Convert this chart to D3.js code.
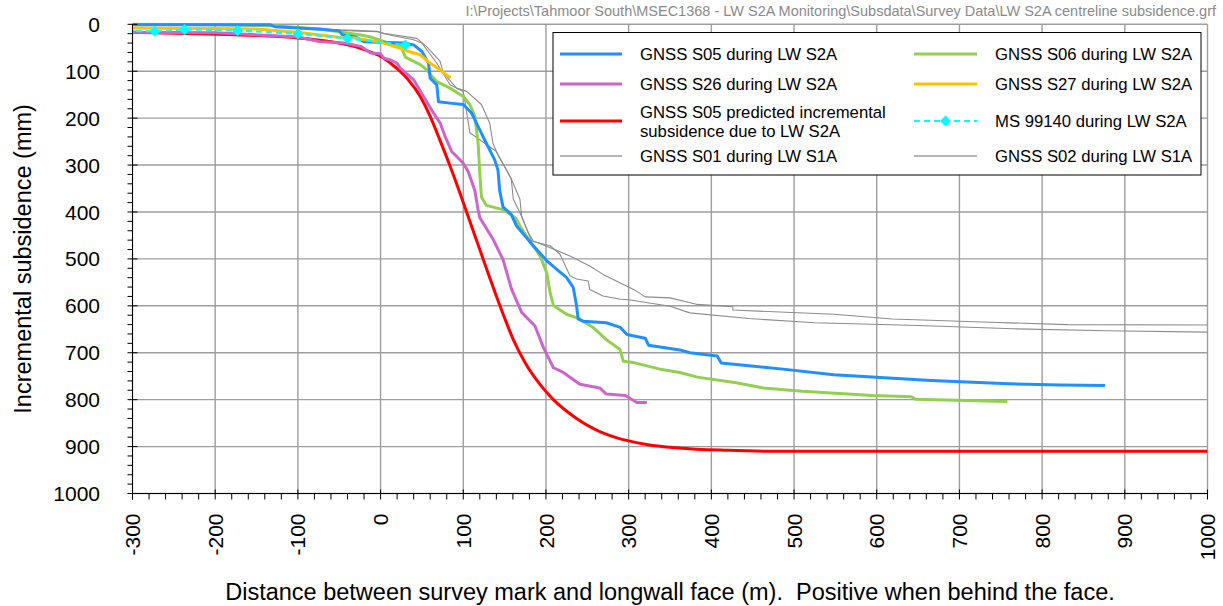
<!DOCTYPE html>
<html><head><meta charset="utf-8">
<script src="https://cdn.jsdelivr.net/npm/d3@7"></script>
<style>
html,body{margin:0;padding:0;background:#fff;}
svg{display:block;font-family:"Liberation Sans",Arial,sans-serif;}
</style></head>
<body>
<svg id="chart" width="1223" height="606"></svg>
<script>
// ---------- data ----------
const xTickValues = [-300,-200,-100,0,100,200,300,400,500,600,700,800,900,1000];
const yTickValues = [0,100,200,300,400,500,600,700,800,900,1000];
const xLabel = "Distance between survey mark and longwall face (m).  Positive when behind the face.";
const yLabel = "Incremental subsidence (mm)";
const filePath = "I:\\Projects\\Tahmoor South\\MSEC1368 - LW S2A Monitoring\\Subsdata\\Survey Data\\LW S2A centreline subsidence.grf";

const s05 = [[-300,1],[-200,1],[-134,1],[-128,5],[-68,11],[-50,14],[-46,23],[-30,27],[-20,37],[28,40],[40,44],[50,58],[58,83],[60,115],[68,129],[70,165],[84,168],[100,171],[110,189],[118,218],[128,254],[138,289],[142,311],[144,354],[148,389],[158,405],[164.5,430],[184.7,472],[201,504],[225,540],[233,561],[237,600],[239,628],[245,633],[273,636],[290,646],[298,661],[320,669],[324,684],[362,694],[374,700],[407,707],[412,722],[492,736],[548,747],[666,759],[760,766],[821,769],[876,770]];
const s06 = [[-300,0],[-200,1],[-130,3],[-73,10],[-24,23],[-12,27],[8,39],[24,44],[30,70],[48,86],[56,97],[62,111],[68,122],[84,136],[100,154],[108,171],[114,196],[118,254],[120,318],[122,368],[128,386],[150,396],[164,414],[168.5,430],[184.7,473],[193,494],[201,530],[205,572],[209,599],[213,604],[225,618],[241,628],[257,646],[273,672],[289.5,693],[293.5,718],[306,721],[338,735],[362,742],[383,752],[430,764],[463,775],[510,782],[595,791],[642,794],[647,799],[758,804]];
const s26 = [[-300,17],[-200,18],[-134,24],[-100,27],[-73,37],[-44,40],[-24,47],[-12,61],[0,63],[4,72],[12,76],[20,83],[24,94],[40,118],[52,154],[64,189],[72,210],[78,239],[86,271],[100,296],[106,314],[114,354],[118,396],[120,412],[136,458],[148,501],[158.5,565],[170.6,614],[186.7,643],[197,689],[209,732],[221,742],[241,767],[265,775],[273,788],[296,791],[310,806],[322,806]];
const s27 = [[-300,8],[-200,9],[-150,10],[-100,17],[-48,28],[-32,29],[0,38],[24,51],[34,58],[48,65],[60,83],[72,97],[82,111],[85,113]];
const predicted = [[-300,17],[-250,19],[-200,21],[-150,24],[-100,29],[-64,36],[-32,47],[-8,62],[0,68],[12,83],[32,115],[48,154],[60,196],[72,248],[84,302],[94,350],[104,400],[114,450],[124,500],[132,540],[140,579],[150,626],[160,670],[175,722],[193,768],[209,800],[237,840],[260,864],[285,881],[320,895],[360,903],[420,908],[480,910],[600,910],[800,910],[1000,910]];
const ms99140 = [[-320,13],[-273,15],[-237,11],[-173,13],[-100,20],[-40,30],[30,44]];
const s01 = [[-68,11],[-32,14],[-4,16],[4,20],[20,26],[40,33],[50,40],[68,83],[84,129],[96,140],[100,143],[108,231],[140,271],[158,329],[160.5,373],[168.5,401],[182.7,462],[205,472],[217,490],[229,536],[237,543],[251,547],[253,565],[269,579],[290,586],[300,587],[350,601],[374,615],[445,627],[525,636],[650,642],[765,649],[878,653],[1000,656]];
const s02 = [[-68,11],[-32,13],[-4,15],[4,19],[44,30],[56,48],[72,79],[76,104],[92,136],[104,143],[122,171],[132,211],[136,254],[142,279],[158,329],[168.5,373],[170.6,409],[178.6,444],[184.7,462],[209,479],[229,494],[253,515],[269,533],[306,565],[320,581],[350,583],[383,597],[426,602],[426,609],[548,618],[619,628],[737,635],[831,640],[1000,641]];

const legendLeft = ["GNSS S05 during LW S2A","GNSS S26 during LW S2A","GNSS S05 predicted incremental|subsidence due to LW S2A","GNSS S01 during LW S1A"];
const legendRight = ["GNSS S06 during LW S2A","GNSS S27 during LW S2A","MS 99140 during LW S2A","GNSS S02 during LW S1A"];

// ---------- styles ----------
const C = {blue:"#1E90FF", green:"#92D050", pink:"#CC66CC", red:"#FF0000", yellow:"#FFC000", cyan:"#00FFFF", gray:"#8c8c8c"};

const svg = d3.select("#chart");
const L = 132.5, R = 1207.5, T = 24.3, B = 493.5;
const x = d3.scaleLinear().domain([-300,1000]).range([L,R]);
const y = d3.scaleLinear().domain([0,1000]).range([T,B]);

// grid
const grid = svg.append("g").attr("stroke","#9e9e9e").attr("stroke-width",1.4);
xTickValues.forEach(v=>{ grid.append("line").attr("x1",x(v)).attr("x2",x(v)).attr("y1",T).attr("y2",B); });
yTickValues.forEach(v=>{ grid.append("line").attr("x1",L).attr("x2",R).attr("y1",y(v)).attr("y2",y(v)); });

// path text
svg.append("text").attr("x",1216).attr("y",16).attr("text-anchor","end")
  .attr("font-size",14.5).attr("fill","#8a8a8a").text(filePath);

// clip
svg.append("clipPath").attr("id","clip").append("rect").attr("x",L).attr("y",T-3).attr("width",R-L).attr("height",B-T+3);
const plot = svg.append("g").attr("clip-path","url(#clip)");

const line = d3.line().x(d=>x(d[0])).y(d=>y(d[1]));
const smooth = d3.line().x(d=>x(d[0])).y(d=>y(d[1])).curve(d3.curveMonotoneX);

function draw(data,color,w,gen,dash){
  const p = plot.append("path").datum(data).attr("d",gen||line).attr("fill","none")
    .attr("stroke",color).attr("stroke-width",w).attr("stroke-linejoin","round");
  if(dash) p.attr("stroke-dasharray",dash);
  return p;
}
draw(s01,C.gray,1.1);
draw(s02,C.gray,1.1);
draw(predicted,C.red,3,smooth);
draw(s26,C.pink,3);
draw(s06,C.green,3);
draw(s05,C.blue,3);
draw(s27,C.yellow,3);
draw(ms99140,C.cyan,2.2,null,"6,4");
const dia = d3.symbol().type(d3.symbolSquare).size(60);
plot.selectAll(".dm").data(ms99140).enter().append("path")
  .attr("d",dia).attr("fill",C.cyan)
  .attr("transform",d=>`translate(${x(d[0])},${y(d[1])}) rotate(45)`);

// axes
const ax = svg.append("g").attr("stroke","#000").attr("stroke-width",1);
ax.append("line").attr("x1",L-4).attr("x2",R).attr("y1",B).attr("y2",B);
ax.append("line").attr("x1",L).attr("x2",L).attr("y1",T).attr("y2",B+6);
d3.range(-300,1001,20).forEach(v=>{
  const major = v%100===0;
  ax.append("line").attr("x1",x(v)).attr("x2",x(v)).attr("y1",major?B-4:B).attr("y2",B+6);
});
d3.range(0,1001,20).forEach(v=>{
  const major = v%100===0;
  ax.append("line").attr("x1",L-5).attr("x2",major?L+5:L).attr("y1",y(v)).attr("y2",y(v));
});

// tick labels
svg.append("g").selectAll("text").data(yTickValues).enter().append("text")
  .attr("x",100).attr("y",d=>y(d)).attr("dy","0.36em").attr("text-anchor","end")
  .attr("font-size",21).attr("fill","#000").text(d=>d);
svg.append("g").selectAll("text").data(xTickValues).enter().append("text")
  .attr("transform",d=>`translate(${x(d)},${B+20}) rotate(-90)`)
  .attr("dy","0.36em").attr("text-anchor","end")
  .attr("font-size",21).attr("fill","#000").text(d=>d);

// titles
svg.append("text").attr("x",(L+R)/2).attr("y",600).attr("text-anchor","middle")
  .attr("font-size",23.5).style("white-space","pre").attr("fill","#000").text(xLabel);
svg.append("text").attr("transform",`translate(31,${(T+B)/2}) rotate(-90)`).attr("text-anchor","middle")
  .attr("font-size",23.5).attr("fill","#000").text(yLabel);

// legend
const lg = svg.append("g");
lg.append("rect").attr("x",553).attr("y",32.5).attr("width",648).attr("height",142.5)
  .attr("fill","#fff").attr("stroke","#000").attr("stroke-width",1);
const rowsY = [54,84,121,156];
const leftStyles = [[C.blue,3],[C.pink,3],[C.red,3],["#b8b8b8",2.2]];
const rightStyles = [[C.green,3],[C.yellow,3],[C.cyan,2.2],["#b8b8b8",2.2]];
function legendCol(labels,styles,x1,x2,tx){
  labels.forEach((lab,i)=>{
    const yy = rowsY[i];
    const ln = lg.append("line").attr("x1",x1).attr("x2",x2).attr("y1",yy).attr("y2",yy)
      .attr("stroke",styles[i][0]).attr("stroke-width",styles[i][1]);
    if(styles[i][0]===C.cyan){
      ln.attr("stroke-dasharray","6,4");
      lg.append("path").attr("d",dia).attr("fill",C.cyan)
        .attr("transform",`translate(${(x1+x2)/2},${yy}) rotate(45)`);
    }
    const parts = lab.split("|");
    const t = lg.append("text").attr("x",tx).attr("font-size",16.7).attr("fill","#000");
    if(parts.length===1){
      t.attr("y",yy).attr("dy","0.36em").text(lab);
    } else {
      t.append("tspan").attr("x",tx).attr("y",yy-9.5).attr("dy","0.36em").text(parts[0]);
      t.append("tspan").attr("x",tx).attr("y",yy+9.5).attr("dy","0.36em").text(parts[1]);
    }
  });
}
legendCol(legendLeft,leftStyles,560,622,640);
legendCol(legendRight,rightStyles,914,977,995);
</script>
</body></html>
